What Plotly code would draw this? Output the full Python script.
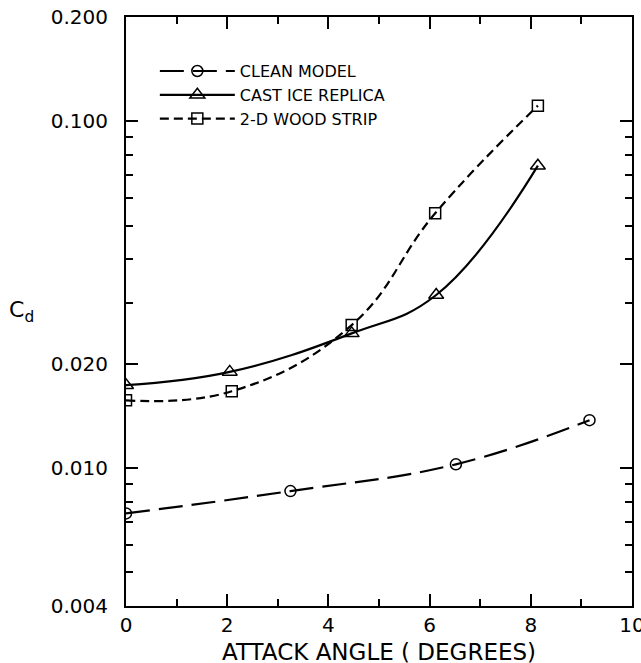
import plotly.graph_objects as go

# ---- data ----
clean_x = [0.0, 3.25, 6.52, 9.16]
clean_y = [0.0074, 0.00858, 0.01025, 0.01374]

cast_x = [0.0, 2.05, 4.46, 6.13, 8.14]
cast_y = [0.01734, 0.01894, 0.02446, 0.03156, 0.0745]

wood_x = [0.0, 2.09, 4.46, 6.11, 8.14]
wood_y = [0.01568, 0.01665, 0.02584, 0.0543, 0.111]

x_ticks = [0, 2, 4, 6, 8, 10]
x_minor = [1, 3, 5, 7, 9]
y_ticks = [0.004, 0.01, 0.02, 0.1, 0.2]
y_ticktext = ["0.004", "0.010", "0.020", "0.100", "0.200"]
y_minor = [0.005, 0.006, 0.007, 0.008, 0.009, 0.03, 0.04, 0.05, 0.06, 0.07, 0.08, 0.09]

FONT = "DejaVu Sans"

fig = go.Figure()
fig.add_trace(go.Scatter(
    x=clean_x, y=clean_y, name="CLEAN MODEL", mode="lines+markers",
    line=dict(color="black", width=2.2, dash="24px,9px", shape="spline", smoothing=1.2),
    marker=dict(symbol="circle-open", size=11, color="black", line=dict(width=1.5)),
))
fig.add_trace(go.Scatter(
    x=cast_x, y=cast_y, name="CAST ICE REPLICA", mode="lines+markers",
    line=dict(color="black", width=2.2, shape="spline", smoothing=1.2),
    marker=dict(symbol="triangle-up-open", size=13, color="black", line=dict(width=1.5)),
))
fig.add_trace(go.Scatter(
    x=wood_x, y=wood_y, name="2-D WOOD STRIP", mode="lines+markers",
    line=dict(color="black", width=2.2, dash="9px,5px", shape="spline", smoothing=1.2),
    marker=dict(symbol="square-open", size=11, color="black", line=dict(width=1.5)),
))

fig.update_layout(
    width=641, height=663,
    margin=dict(l=126, r=9, t=17, b=57, autoexpand=False),
    paper_bgcolor="white", plot_bgcolor="white",
    font=dict(family=FONT, color="black", size=18),
    showlegend=True,
    legend=dict(
        x=0.057, y=0.937, xanchor="left", yanchor="top",
        font=dict(family=FONT, size=16, color="black"),
        bgcolor="rgba(0,0,0,0)", itemwidth=75, tracegroupgap=0,
    ),
    xaxis=dict(
        range=[0, 10], showgrid=False, zeroline=False, automargin=False,
        showline=True, linecolor="black", linewidth=2, mirror="allticks",
        ticks="inside", ticklen=12, tickwidth=1.5, tickcolor="black",
        tickmode="array", tickvals=x_ticks,
        ticktext=[str(v) for v in x_ticks],
        tickfont=dict(family=FONT, size=20, color="black"),
        ticklabelstandoff=0, ticklabeloverflow="allow",
        minor=dict(tickmode="array", tickvals=x_minor, ticks="inside",
                   ticklen=7, tickwidth=1.5, tickcolor="black", showgrid=False),
    ),
    yaxis=dict(
        type="log", range=[-2.39794, -0.69897], showgrid=False, zeroline=False,
        automargin=False,
        showline=True, linecolor="black", linewidth=2, mirror="allticks",
        ticks="inside", ticklen=12, tickwidth=1.5, tickcolor="black",
        tickmode="array", tickvals=y_ticks, ticktext=y_ticktext,
        tickfont=dict(family=FONT, size=20, color="black"),
        ticklabelstandoff=12, ticklabeloverflow="allow",
        minor=dict(tickmode="array", tickvals=y_minor, ticks="inside",
                   ticklen=7, tickwidth=1.5, tickcolor="black", showgrid=False),
    ),
    annotations=[
        dict(text="ATTACK ANGLE ( DEGREES)", xref="paper", yref="paper",
             x=0.5, y=-0.0527, xanchor="center", yanchor="top", showarrow=False,
             font=dict(family=FONT, size=23, color="black")),
        dict(text="C<sub>d</sub>", xref="paper", yref="paper",
             x=-0.235, y=0.5, xanchor="left", yanchor="middle", showarrow=False,
             font=dict(family=FONT, size=22, color="black")),
    ],
)

fig.write_html("out.html")
